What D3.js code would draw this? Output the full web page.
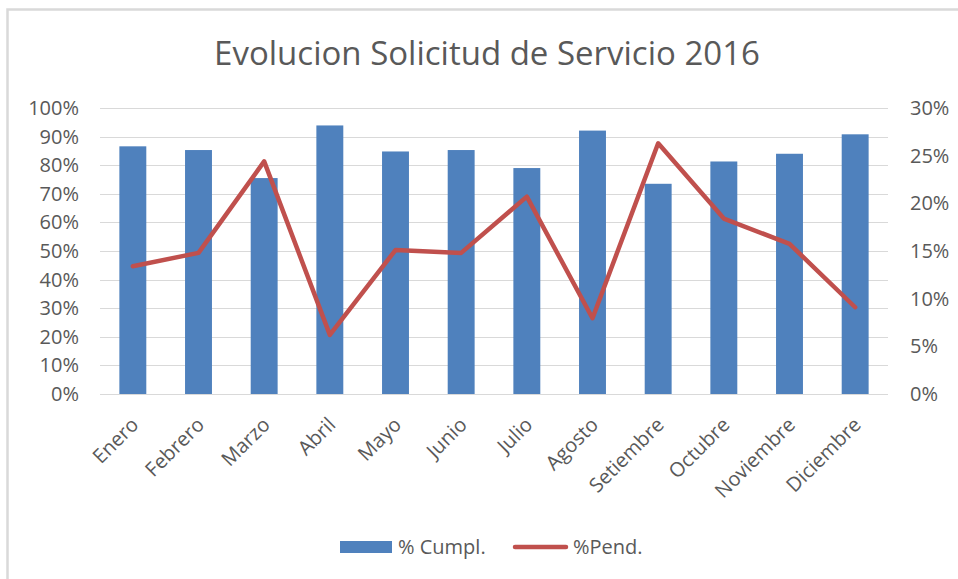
<meta charset="utf-8">
<script src="https://d3js.org/d3.v7.min.js"></script>
<style>
body { margin: 0; background: #fff; }
text { font-family: "Open Sans", sans-serif; fill: #595959; }
.grid line { stroke: #d9d9d9; stroke-width: 1; shape-rendering: crispEdges; }
.grid path { stroke-width: 0; }
.axis path, .axis line { stroke: none; }
</style>
<div id="chart"></div>
<script>
// data
var months = ["Enero", "Febrero", "Marzo", "Abril", "Mayo", "Junio", "Julio",
    "Agosto", "Setiembre", "Octubre", "Noviembre", "Diciembre"];
var cumpl = [86.6, 85.3, 75.5, 93.9, 84.8, 85.3, 79.0, 92.1, 73.5, 81.3, 84.0, 90.8];
var pend = [13.4, 14.8, 24.4, 6.2, 15.1, 14.8, 20.7, 7.95, 26.3, 18.4, 15.75, 9.1];
var leftTicks = [0, 10, 20, 30, 40, 50, 60, 70, 80, 90, 100];
var rightTicks = [0, 5, 10, 15, 20, 25, 30];

var W = 958, H = 579;
var margin = {top: 108, right: 70, bottom: 185, left: 100};
var width = W - margin.left - margin.right;
var height = H - margin.top - margin.bottom;

var root = d3.select("#chart").append("svg")
    .attr("width", W)
    .attr("height", H);

// chart frame
root.append("rect")
    .attr("x", 7.5).attr("y", 9.5)
    .attr("width", W + 20).attr("height", H + 20)
    .attr("fill", "none")
    .attr("stroke", "#d9d9d9")
    .attr("stroke-width", 2.5);

root.append("text")
    .attr("x", 487)
    .attr("y", 65)
    .attr("text-anchor", "middle")
    .attr("font-size", "33px")
    .text("Evolucion Solicitud de Servicio 2016");

var svg = root.append("g")
    .attr("transform", "translate(" + margin.left + "," + margin.top + ")");

var x = d3.scaleBand()
    .domain(months)
    .range([0, width])
    .paddingInner(0.59)
    .paddingOuter(0.295);
var yL = d3.scaleLinear().domain([0, 100]).range([height, 0]);
var yR = d3.scaleLinear().domain([0, 30]).range([height, 0]);

// gridlines
svg.append("g")
    .attr("class", "grid")
    .call(d3.axisLeft(yL).tickValues(leftTicks).tickSize(-width).tickFormat(""));

// left axis
svg.append("g")
    .attr("class", "axis")
    .call(d3.axisLeft(yL).tickValues(leftTicks).tickSize(0).tickPadding(21)
        .tickFormat(function(d) { return d + "%"; }))
    .selectAll("text")
    .attr("font-size", "20px")
    .attr("fill", "#595959");

// right axis
svg.append("g")
    .attr("class", "axis")
    .attr("transform", "translate(" + width + ",0)")
    .call(d3.axisRight(yR).tickValues(rightTicks).tickSize(0).tickPadding(22)
        .tickFormat(function(d) { return d + "%"; }))
    .selectAll("text")
    .attr("font-size", "20px")
    .attr("fill", "#595959");

// bars
svg.selectAll(".bar")
    .data(months)
    .enter().append("rect")
    .attr("class", "bar")
    .attr("x", function(d) { return x(d); })
    .attr("y", function(d, i) { return yL(cumpl[i]); })
    .attr("width", x.bandwidth())
    .attr("height", function(d, i) { return height - yL(cumpl[i]); })
    .attr("fill", "#4f81bd");

// x axis labels
var xAxis = svg.append("g")
    .attr("class", "axis")
    .attr("transform", "translate(0," + height + ")")
    .call(d3.axisBottom(x).tickSize(0).tickFormat(function(d) { return d; }));
xAxis.selectAll("text")
    .attr("font-size", "20px")
    .attr("fill", "#595959")
    .attr("dy", null)
    .attr("y", 0)
    .style("text-anchor", "end")
    .attr("transform", "translate(7,32) rotate(-45)");

// line
var line = d3.line()
    .x(function(d, i) { return x(months[i]) + x.bandwidth() / 2; })
    .y(function(d) { return yR(d); });
svg.append("path")
    .datum(pend)
    .attr("fill", "none")
    .attr("stroke", "#c0504d")
    .attr("stroke-width", 4.5)
    .attr("stroke-linejoin", "round")
    .attr("stroke-linecap", "round")
    .attr("d", line);

// legend
var lg = root.append("g");
lg.append("rect")
    .attr("x", 340).attr("y", 541)
    .attr("width", 52).attr("height", 12)
    .attr("fill", "#4f81bd");
lg.append("text")
    .attr("x", 398).attr("y", 554)
    .attr("font-size", "20px")
    .text("% Cumpl.");
lg.append("line")
    .attr("x1", 515).attr("x2", 566)
    .attr("y1", 547).attr("y2", 547)
    .attr("stroke", "#c0504d")
    .attr("stroke-width", 4.5)
    .attr("stroke-linecap", "round");
lg.append("text")
    .attr("x", 573).attr("y", 554)
    .attr("font-size", "20px")
    .text("%Pend.");
</script>
